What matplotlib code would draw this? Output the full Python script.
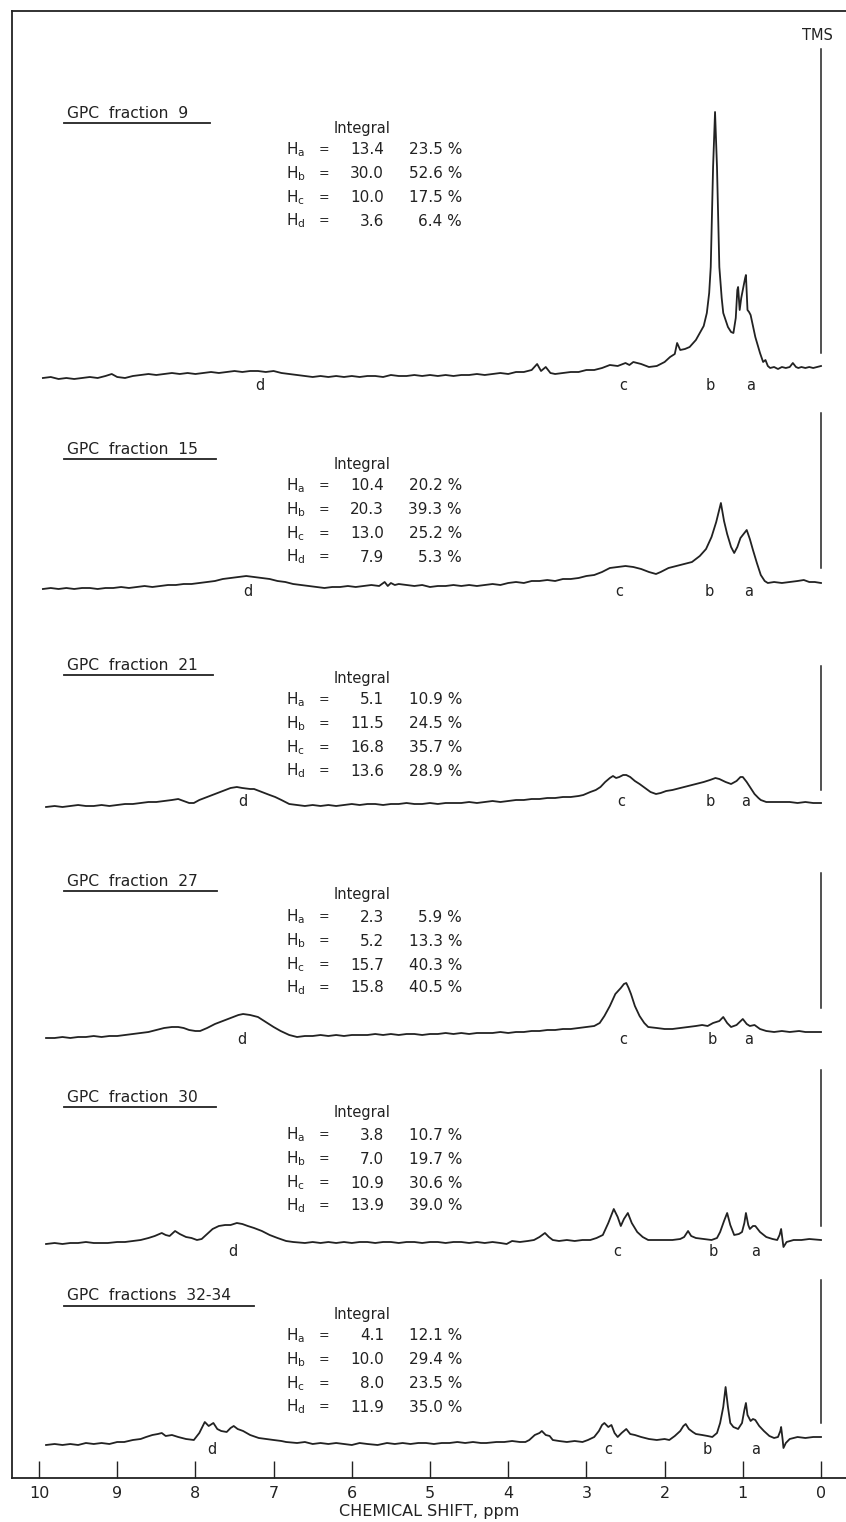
"""
Stacked 1H NMR spectra of GPC fractions (scanned-figure style)
"""

import matplotlib.pyplot as plt

plt.rcParams.update({'font.family': 'DejaVu Sans', 'mathtext.fontset': 'dejavusans'})

# ─── data ────────────────────────────────────────────────────────────────
TITLES = ['GPC  fraction  9', 'GPC  fraction  15', 'GPC  fraction  21',
          'GPC  fraction  27', 'GPC  fraction  30', 'GPC  fractions  32-34']
H_NAMES = ['a', 'b', 'c', 'd']
INTEGRAL = [[13.4, 30.0, 10.0, 3.6],
            [10.4, 20.3, 13.0, 7.9],
            [5.1, 11.5, 16.8, 13.6],
            [2.3, 5.2, 15.7, 15.8],
            [3.8, 7.0, 10.9, 13.9],
            [4.1, 10.0, 8.0, 11.9]]
PERCENT = [[23.5, 52.6, 17.5, 6.4],
           [20.2, 39.3, 25.2, 5.3],
           [10.9, 24.5, 35.7, 28.9],
           [5.9, 13.3, 40.3, 40.5],
           [10.7, 19.7, 30.6, 39.0],
           [12.1, 29.4, 23.5, 35.0]]
PEAK_NAMES = ['d', 'c', 'b', 'a']
X_TICKS = [10, 9, 8, 7, 6, 5, 4, 3, 2, 1, 0]

# traced spectra: (chemical shift ppm, signal height above baseline)
TRACE_9 = [
    (9.95, 0), (9.85, 1), (9.75, -1), (9.65, 0), (9.55, -1), (9.45, 0), (9.35, 1),
    (9.25, 0), (9.15, 2), (9.07, 4), (9.0, 1), (8.9, 0), (8.8, 2), (8.7, 3), (8.6, 4),
    (8.5, 3), (8.4, 4), (8.3, 5), (8.2, 4), (8.1, 5), (8.0, 4), (7.9, 5), (7.8, 6),
    (7.7, 5), (7.6, 6), (7.5, 7), (7.4, 6), (7.3, 7), (7.2, 7), (7.1, 6), (7.0, 7),
    (6.9, 5), (6.8, 4), (6.7, 3), (6.6, 2), (6.5, 1), (6.4, 2), (6.3, 1), (6.2, 2),
    (6.1, 1), (6.0, 2), (5.9, 1), (5.8, 2), (5.7, 2), (5.6, 1), (5.5, 3), (5.4, 2),
    (5.3, 2), (5.2, 3), (5.1, 2), (5.0, 3), (4.9, 2), (4.8, 3), (4.7, 2), (4.6, 3),
    (4.5, 3), (4.4, 4), (4.3, 3), (4.2, 4), (4.1, 5), (4.0, 4), (3.9, 6), (3.8, 6),
    (3.7, 8), (3.63, 14), (3.58, 7), (3.52, 11), (3.46, 5), (3.4, 4), (3.3, 5),
    (3.2, 6), (3.1, 6), (3.0, 8), (2.9, 8), (2.8, 10), (2.7, 13), (2.6, 12), (2.5, 15),
    (2.45, 13), (2.4, 16), (2.3, 14), (2.2, 11), (2.1, 12), (2.0, 16), (1.93, 21),
    (1.87, 24), (1.84, 35), (1.80, 28), (1.74, 29), (1.68, 31), (1.6, 38), (1.55, 45),
    (1.5, 52), (1.46, 65), (1.43, 85), (1.41, 111), (1.38, 211), (1.355, 266),
    (1.33, 211), (1.30, 111), (1.27, 80), (1.25, 65), (1.19, 51), (1.15, 46),
    (1.12, 45), (1.09, 60), (1.07, 88), (1.06, 91), (1.05, 80), (1.04, 68), (1.02, 80),
    (1.00, 88), (0.97, 100), (0.96, 103), (0.94, 68), (0.92, 66), (0.90, 63),
    (0.87, 52), (0.84, 41), (0.78, 25), (0.74, 16), (0.71, 18), (0.68, 12), (0.65, 10),
    (0.6, 11), (0.55, 9), (0.5, 11), (0.45, 10), (0.4, 11), (0.36, 15), (0.32, 11),
    (0.29, 10), (0.25, 11), (0.2, 10), (0.15, 11), (0.1, 10), (0.05, 11), (0.0, 12)]

TRACE_15 = [
    (9.95, -2), (9.85, -1), (9.75, -2), (9.65, -1), (9.55, -2), (9.45, -1), (9.35, -1),
    (9.25, -2), (9.15, -1), (9.05, -1), (8.95, 0), (8.85, -1), (8.75, 0), (8.65, 1),
    (8.55, 0), (8.45, 1), (8.35, 2), (8.25, 2), (8.15, 3), (8.05, 3), (7.95, 4),
    (7.85, 5), (7.75, 6), (7.65, 8), (7.55, 9), (7.45, 10), (7.35, 11), (7.25, 10),
    (7.15, 9), (7.05, 8), (6.95, 6), (6.85, 5), (6.75, 3), (6.65, 2), (6.55, 1),
    (6.45, 0), (6.35, -1), (6.25, 0), (6.15, 0), (6.05, 1), (5.95, 0), (5.85, 1),
    (5.75, 2), (5.65, 1), (5.58, 5), (5.54, 1), (5.5, 4), (5.45, 2), (5.4, 3), (5.3, 2),
    (5.2, 1), (5.1, 2), (5.0, 0), (4.9, 1), (4.8, 1), (4.7, 2), (4.6, 1), (4.5, 2),
    (4.4, 1), (4.3, 2), (4.2, 3), (4.1, 2), (4.0, 4), (3.9, 5), (3.8, 4), (3.7, 6),
    (3.6, 6), (3.5, 7), (3.4, 6), (3.3, 8), (3.2, 8), (3.1, 9), (3.0, 11), (2.9, 12),
    (2.8, 15), (2.7, 19), (2.6, 20), (2.5, 21), (2.4, 20), (2.3, 18), (2.2, 15),
    (2.11, 13), (2.05, 15), (1.95, 19), (1.85, 21), (1.75, 23), (1.65, 25), (1.55, 31),
    (1.47, 38), (1.40, 50), (1.34, 65), (1.28, 84), (1.24, 66), (1.20, 53), (1.15, 40),
    (1.11, 34), (1.07, 40), (1.03, 49), (0.98, 54), (0.95, 57), (0.91, 48), (0.87, 37),
    (0.82, 24), (0.77, 12), (0.72, 6), (0.68, 4), (0.6, 5), (0.5, 4), (0.4, 5),
    (0.3, 6), (0.22, 7), (0.15, 5), (0.08, 5), (0.0, 4)]

TRACE_21 = [
    (9.91, -1), (9.8, 0), (9.7, -1), (9.6, 0), (9.5, 1), (9.4, 0), (9.3, 0), (9.2, 1),
    (9.1, 0), (9.0, 1), (8.9, 2), (8.8, 2), (8.7, 3), (8.6, 4), (8.5, 4), (8.4, 5),
    (8.3, 6), (8.22, 7), (8.15, 5), (8.08, 3), (8.02, 3), (7.95, 6), (7.85, 9),
    (7.75, 12), (7.65, 15), (7.55, 18), (7.47, 19), (7.4, 18), (7.3, 17), (7.25, 17),
    (7.15, 14), (7.05, 11), (6.98, 9), (6.9, 6), (6.8, 2), (6.7, 1), (6.6, 0), (6.5, 1),
    (6.4, 0), (6.3, 1), (6.2, 0), (6.1, 1), (6.0, 2), (5.9, 1), (5.8, 2), (5.7, 2),
    (5.6, 1), (5.5, 2), (5.4, 2), (5.3, 3), (5.2, 2), (5.1, 2), (5.0, 3), (4.9, 2),
    (4.8, 3), (4.7, 3), (4.6, 3), (4.5, 4), (4.4, 3), (4.3, 4), (4.2, 5), (4.1, 4),
    (4.0, 5), (3.9, 6), (3.8, 6), (3.7, 7), (3.6, 7), (3.5, 8), (3.4, 8), (3.3, 9),
    (3.2, 9), (3.1, 10), (3.04, 11), (2.95, 14), (2.88, 16), (2.82, 19), (2.76, 24),
    (2.70, 28), (2.66, 30), (2.62, 28), (2.58, 29), (2.53, 31), (2.49, 31), (2.44, 29),
    (2.38, 25), (2.32, 22), (2.25, 18), (2.18, 14), (2.11, 12), (2.05, 13), (1.98, 15),
    (1.9, 16), (1.8, 18), (1.7, 20), (1.6, 22), (1.5, 24), (1.42, 26), (1.35, 28),
    (1.3, 27), (1.22, 24), (1.15, 22), (1.08, 25), (1.03, 29), (1.0, 29), (0.95, 24),
    (0.9, 18), (0.85, 12), (0.8, 8), (0.77, 6), (0.7, 4), (0.6, 4), (0.5, 4), (0.4, 4),
    (0.3, 3), (0.2, 4), (0.1, 3), (0.0, 3)]

TRACE_27 = [
    (9.91, 0), (9.8, 0), (9.7, 1), (9.6, 0), (9.5, 1), (9.4, 1), (9.3, 2), (9.2, 1),
    (9.1, 2), (9.0, 2), (8.9, 3), (8.8, 4), (8.7, 5), (8.6, 6), (8.5, 8), (8.4, 10),
    (8.3, 11), (8.22, 11), (8.15, 10), (8.08, 8), (8.0, 7), (7.94, 7), (7.85, 10),
    (7.75, 14), (7.65, 17), (7.55, 20), (7.45, 23), (7.39, 24), (7.3, 23), (7.2, 21),
    (7.1, 16), (7.0, 11), (6.91, 7), (6.8, 3), (6.7, 1), (6.6, 2), (6.5, 2), (6.4, 3),
    (6.3, 2), (6.2, 3), (6.1, 2), (6.0, 3), (5.9, 3), (5.8, 3), (5.7, 4), (5.6, 3),
    (5.5, 4), (5.4, 3), (5.3, 4), (5.2, 4), (5.1, 3), (5.0, 4), (4.9, 4), (4.8, 5),
    (4.7, 4), (4.6, 5), (4.5, 4), (4.4, 5), (4.3, 5), (4.2, 5), (4.1, 6), (4.0, 5),
    (3.9, 6), (3.8, 6), (3.7, 7), (3.6, 7), (3.5, 8), (3.4, 8), (3.3, 9), (3.2, 9),
    (3.1, 10), (3.0, 11), (2.9, 12), (2.83, 15), (2.77, 22), (2.7, 32), (2.63, 44),
    (2.56, 50), (2.52, 54), (2.49, 55), (2.46, 50), (2.43, 44), (2.38, 32), (2.32, 22),
    (2.26, 15), (2.21, 11), (2.1, 10), (2.0, 9), (1.9, 9), (1.8, 10), (1.7, 11),
    (1.6, 12), (1.52, 13), (1.45, 12), (1.38, 15), (1.3, 17), (1.25, 21), (1.2, 15),
    (1.15, 11), (1.08, 13), (1.0, 19), (0.95, 14), (0.91, 12), (0.85, 13), (0.78, 9),
    (0.7, 7), (0.6, 6), (0.5, 7), (0.4, 6), (0.28, 7), (0.2, 6), (0.1, 6), (0.0, 6)]

TRACE_30 = [
    (9.91, -1), (9.8, 0), (9.7, -1), (9.6, 0), (9.5, 0), (9.4, 1), (9.3, 0), (9.2, 0),
    (9.12, 0), (9.0, 1), (8.9, 1), (8.8, 2), (8.7, 3), (8.6, 5), (8.52, 7), (8.43, 10),
    (8.38, 8), (8.33, 7), (8.26, 12), (8.2, 9), (8.12, 6), (8.05, 5), (7.98, 3),
    (7.92, 4), (7.85, 9), (7.78, 14), (7.7, 17), (7.62, 18), (7.55, 18), (7.47, 20),
    (7.4, 19), (7.33, 17), (7.25, 15), (7.15, 12), (7.05, 8), (6.95, 5), (6.84, 2),
    (6.75, 1), (6.6, 0), (6.5, 1), (6.4, 0), (6.3, 1), (6.2, 0), (6.1, 1), (6.0, 0),
    (5.9, 1), (5.8, 1), (5.7, 0), (5.6, 1), (5.5, 1), (5.4, 0), (5.3, 1), (5.2, 1),
    (5.1, 0), (5.0, 1), (4.9, 1), (4.8, 0), (4.7, 1), (4.6, 1), (4.5, 0), (4.4, 1),
    (4.3, 0), (4.2, 1), (4.1, 0), (4.02, -1), (3.95, 2), (3.85, 1), (3.75, 2), (3.67, 3),
    (3.6, 6), (3.53, 10), (3.48, 6), (3.43, 3), (3.35, 2), (3.25, 3), (3.15, 2),
    (3.05, 3), (2.95, 3), (2.87, 5), (2.79, 8), (2.72, 20), (2.65, 34), (2.6, 26),
    (2.56, 17), (2.52, 24), (2.47, 30), (2.42, 20), (2.35, 11), (2.28, 6), (2.21, 3),
    (2.1, 3), (2.0, 3), (1.9, 3), (1.8, 4), (1.75, 6), (1.70, 12), (1.66, 7), (1.6, 5),
    (1.5, 4), (1.4, 3), (1.33, 5), (1.29, 11), (1.24, 22), (1.20, 30), (1.16, 18),
    (1.11, 8), (1.05, 9), (1.01, 11), (0.98, 20), (0.96, 30), (0.93, 18), (0.91, 14),
    (0.87, 17), (0.84, 17), (0.78, 11), (0.70, 6), (0.62, 4), (0.56, 3), (0.53, 8),
    (0.51, 14), (0.49, 2), (0.48, -4), (0.44, 1), (0.35, 3), (0.25, 3), (0.15, 4),
    (0.0, 3)]

TRACE_32_34 = [
    (9.91, 0), (9.8, 1), (9.7, 0), (9.6, 1), (9.5, 0), (9.4, 2), (9.3, 1), (9.2, 2),
    (9.1, 1), (9.0, 3), (8.91, 3), (8.8, 5), (8.7, 6), (8.63, 8), (8.55, 10),
    (8.48, 11), (8.43, 12), (8.38, 9), (8.3, 10), (8.22, 8), (8.12, 6), (8.02, 5),
    (7.95, 12), (7.9, 20), (7.88, 23), (7.83, 19), (7.77, 22), (7.72, 16), (7.67, 14),
    (7.6, 13), (7.55, 17), (7.51, 19), (7.46, 16), (7.39, 14), (7.3, 10), (7.19, 7),
    (7.1, 6), (7.0, 5), (6.9, 4), (6.84, 3), (6.7, 2), (6.6, 3), (6.5, 1), (6.4, 2),
    (6.3, 1), (6.2, 2), (6.1, 1), (6.0, 0), (5.9, 2), (5.8, 1), (5.67, 0), (5.55, 2),
    (5.45, 1), (5.35, 2), (5.25, 1), (5.15, 2), (5.05, 2), (4.95, 1), (4.85, 2),
    (4.75, 2), (4.65, 3), (4.55, 2), (4.45, 3), (4.35, 2), (4.28, 2), (4.15, 3),
    (4.05, 3), (3.95, 4), (3.85, 3), (3.78, 3), (3.73, 5), (3.66, 10), (3.6, 12),
    (3.57, 14), (3.52, 10), (3.47, 9), (3.43, 5), (3.35, 4), (3.25, 3), (3.15, 4),
    (3.05, 3), (2.98, 5), (2.9, 8), (2.84, 14), (2.8, 20), (2.77, 22), (2.72, 18),
    (2.68, 20), (2.64, 12), (2.6, 8), (2.55, 12), (2.49, 16), (2.44, 11), (2.38, 10),
    (2.3, 8), (2.2, 6), (2.1, 5), (2.0, 6), (1.94, 5), (1.87, 9), (1.80, 14),
    (1.76, 19), (1.73, 21), (1.69, 16), (1.64, 13), (1.6, 11), (1.52, 10), (1.45, 9),
    (1.39, 8), (1.33, 12), (1.29, 22), (1.25, 38), (1.22, 58), (1.19, 38), (1.16, 22),
    (1.12, 18), (1.06, 16), (1.01, 22), (0.98, 35), (0.96, 42), (0.94, 30), (0.90, 24),
    (0.87, 26), (0.84, 25), (0.79, 19), (0.73, 14), (0.66, 9), (0.60, 7), (0.55, 8),
    (0.52, 14), (0.51, 18), (0.49, 5), (0.48, -3), (0.45, 2), (0.4, 6), (0.35, 7),
    (0.3, 8), (0.2, 7), (0.1, 8), (0.0, 8)]

SPECTRA = [TRACE_9, TRACE_15, TRACE_21, TRACE_27, TRACE_30, TRACE_32_34]

# ─── layout (y in pixels of the page, x in ppm) ───────────────────────────
BASE_Y = [378, 587, 806, 1038, 1243, 1445]
TITLE_Y = [113, 449, 665, 881, 1097, 1296]
INTEG_Y = [128, 464, 678, 895, 1113, 1314]
ROW_DY = [22, 46, 70, 93]
LABEL_Y = [386, 591, 801, 1040, 1251, 1449]
LABEL_X = [[7.17, 2.53, 1.42, 0.90],
           [7.33, 2.58, 1.43, 0.93],
           [7.39, 2.55, 1.42, 0.96],
           [7.40, 2.53, 1.39, 0.92],
           [7.52, 2.60, 1.38, 0.84],
           [7.79, 2.72, 1.46, 0.84]]
VLINE = [(49, 353), (413, 568), (666, 790), (873, 1008), (1070, 1226), (1280, 1423)]
ULINE_END = [210, 216, 213, 217, 216, 254]   # page px


def px2ppm(x):
    return (821 - x) / 78.2


INK = '#222222'
W, H = 846, 1522
fig = plt.figure(figsize=(W / 100, H / 100), dpi=100)
fig.patch.set_facecolor('white')
ax = fig.add_axes([12 / W, 44 / H, (W - 12) / W, (1478 - 11) / H])
ax.set_xlim(px2ppm(12), px2ppm(W))
ax.set_ylim(1478, 11)

for side in ['left', 'top', 'bottom']:
    ax.spines[side].set_linewidth(1.3)
    ax.spines[side].set_color(INK)
ax.spines['right'].set_visible(False)
ax.set_yticks([])
ax.set_xticks(X_TICKS)
ax.set_xticklabels([str(t) for t in X_TICKS])
ax.tick_params(axis='x', direction='in', length=12, width=1.0, color=INK,
               pad=6, labelsize=11.5, labelcolor=INK)
ax.set_xlabel('CHEMICAL SHIFT, ppm', fontsize=11.5, color=INK, labelpad=2)

# TMS marker
ax.text(0.04, 35, 'TMS', ha='center', va='center', fontsize=10.5, color=INK)

for i, trace in enumerate(SPECTRA):
    ppm = [p for p, _ in trace]
    y0 = BASE_Y[i]
    ax.plot(ppm, [y0 - v for _, v in trace], color=INK, lw=1.3,
            solid_joinstyle='round')

    # reference line at 0 ppm
    ax.plot([0, 0], VLINE[i], color=INK, lw=1.1)

    # title with underline
    ax.text(px2ppm(67), TITLE_Y[i], TITLES[i], ha='left', va='center',
            fontsize=11.2, color=INK)
    ax.plot([px2ppm(64), px2ppm(ULINE_END[i])], [TITLE_Y[i] + 10] * 2,
            color=INK, lw=1.3)

    # integral table
    iy = INTEG_Y[i]
    ax.text(px2ppm(362), iy, 'Integral', ha='center', va='center',
            fontsize=10.5, color=INK)
    for k, name in enumerate(H_NAMES):
        ry = iy + ROW_DY[k]
        ax.text(px2ppm(286), ry, r'$\mathregular{H_{%s}}$' % name,
                ha='left', va='center', fontsize=11, color=INK)
        ax.text(px2ppm(324), ry, '=', ha='center', va='center',
                fontsize=9, color=INK)
        ax.text(px2ppm(384), ry, f'{INTEGRAL[i][k]:.1f}', ha='right',
                va='center', fontsize=11, color=INK)
        ax.text(px2ppm(462), ry, f'{PERCENT[i][k]:.1f} %', ha='right',
                va='center', fontsize=11, color=INK)

    # peak labels
    for k, lab in enumerate(PEAK_NAMES):
        ax.text(LABEL_X[i][k], LABEL_Y[i], lab, ha='center', va='center',
                fontsize=10.5, color=INK)

fig.savefig('out.png', dpi=100, facecolor='white')
